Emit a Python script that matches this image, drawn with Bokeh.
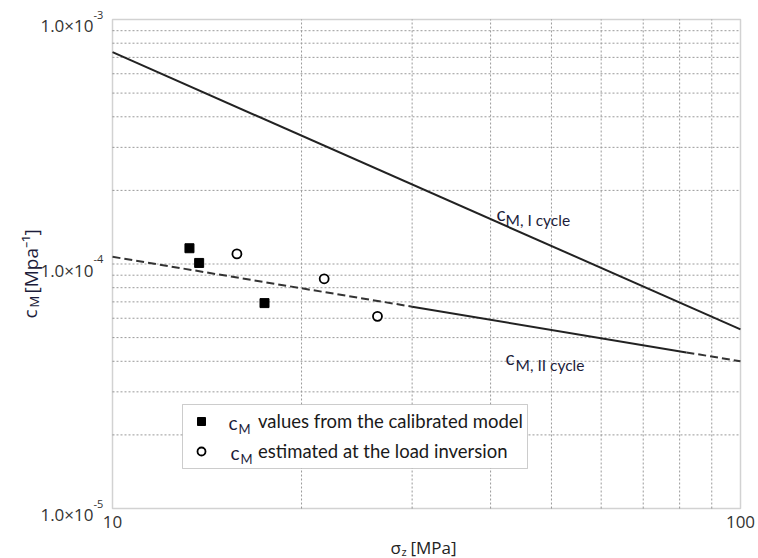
import math
from bokeh.plotting import figure
from bokeh.models import Range1d, Label, Legend, LegendItem, BoxAnnotation
from bokeh.embed import file_html
from bokeh.resources import INLINE

# ---------------- data ----------------
sigma_ends = [10, 100]
cM_cycle1 = [7.35e-4, 5.4e-5]

sigma_cycle2 = [10, 30, 82, 100]
cM_cycle2 = [1.07e-4, 6.69e-5, 4.35e-5, 4.0e-5]

sigma_calibrated = [13.26, 13.74, 17.46]
cM_calibrated = [1.16e-4, 1.01e-4, 6.92e-5]

sigma_inversion = [15.78, 21.73, 26.42]
cM_inversion = [1.10e-4, 8.70e-5, 6.11e-5]

x_major = [10, 100]
x_major_labels = ["10", "100"]
x_minor = [20, 30, 40, 50, 60, 70, 80, 90]
y_major = [1e-5, 1e-4, 1e-3]
y_major_mant = ["1.0\u00d710", "1.0\u00d710", "1.0\u00d710"]
y_major_exp = ["-5", "-4", "-3"]
y_minor = [2e-5, 3e-5, 4e-5, 5e-5, 6e-5, 7e-5, 8e-5, 9e-5,
           2e-4, 3e-4, 4e-4, 5e-4, 6e-4, 7e-4, 8e-4, 9e-4]

legend_labels = ["values from the calibrated model", "estimated at the load inversion"]

# ---------------- geometry (pixels) ----------------
W, H = 758, 558
BOX_L, BOX_R, BOX_T, BOX_B = 112, 740, 19, 508
lx0, lx1 = math.log10(x_major[0]), math.log10(x_major[-1])
ly0, ly1 = math.log10(y_major[0]), math.log10(y_major[-1])
sx = (BOX_R - BOX_L) / (lx1 - lx0)
sy = (BOX_B - BOX_T) / (ly1 - ly0)

p = figure(width=W, height=H, x_axis_type="log", y_axis_type="log",
           x_range=Range1d(10 ** (lx0 - BOX_L / sx), 10 ** (lx1 + (W - BOX_R) / sx)),
           y_range=Range1d(10 ** (ly0 - (H - BOX_B) / sy), 10 ** (ly1 + BOX_T / sy)),
           x_axis_location=None, y_axis_location=None, min_border=0,
           output_backend="svg", toolbar_location=None)
p.grid.visible = False
p.outline_line_color = None
p.background_fill_color = "white"
p.border_fill_color = "white"

# ---------------- grid (dotted) ----------------
grid_style = dict(line_color="#9a9a9a", line_width=1, line_dash="2 2")
p.segment(x0=x_minor, y0=[y_major[0]] * len(x_minor),
          x1=x_minor, y1=[y_major[-1]] * len(x_minor), **grid_style)
y_grid = y_minor + y_major[1:-1]
p.segment(x0=[x_major[0]] * len(y_grid), y0=y_grid,
          x1=[x_major[-1]] * len(y_grid), y1=y_grid, **grid_style)

# ---------------- curves ----------------
p.line(sigma_ends, cM_cycle1, line_color="#222222", line_width=2)
p.line(sigma_cycle2[0:2], cM_cycle2[0:2], line_color="#333333", line_width=2, line_dash="8 4")
p.line(sigma_cycle2[1:3], cM_cycle2[1:3], line_color="#222222", line_width=2)
p.line(sigma_cycle2[2:4], cM_cycle2[2:4], line_color="#333333", line_width=2, line_dash="8 4")

sq = p.scatter(sigma_calibrated, cM_calibrated, marker="square", size=9,
               fill_color="black", line_color="black")
ci = p.scatter(sigma_inversion, cM_inversion, marker="circle", size=9,
               fill_color="white", line_color="black", line_width=1.8)

# plot box
p.add_layout(BoxAnnotation(left=x_major[0], right=x_major[-1],
                           bottom=y_major[0], top=y_major[-1],
                           fill_alpha=0, line_color="#6a6a6a", line_width=1.5))

# ---------------- tick labels ----------------
for xv, txt in zip(x_major, x_major_labels):
    p.add_layout(Label(x=xv, y=y_major[0], text=txt, x_offset=0, y_offset=-13,
                       text_align="center", text_baseline="middle",
                       text_font="Open Sans", text_font_size="17px", text_color="#333333"))
for yv, mant, ex in zip(y_major, y_major_mant, y_major_exp):
    p.add_layout(Label(x=x_major[0], y=yv, text=mant, x_offset=-19, y_offset=-6,
                       text_align="right", text_baseline="middle",
                       text_font="Open Sans", text_font_size="17px", text_color="#333333"))
    p.add_layout(Label(x=x_major[0], y=yv, text=ex, x_offset=-19, y_offset=5,
                       text_align="left", text_baseline="middle",
                       text_font="Open Sans", text_font_size="11px", text_color="#333333"))

# ---------------- legend ----------------
LEG_L, LEG_R, LEG_T, LEG_B = 182, 527, 404, 468
p.add_layout(BoxAnnotation(left=LEG_L, right=LEG_R, bottom=H - LEG_B, top=H - LEG_T,
                           left_units="screen", right_units="screen",
                           bottom_units="screen", top_units="screen",
                           fill_color="white", fill_alpha=1,
                           line_color="#555555", line_width=1))
legend = Legend(items=[LegendItem(label=legend_labels[0], renderers=[sq]),
                       LegendItem(label=legend_labels[1], renderers=[ci])],
                location=(LEG_L + 7, H - LEG_B + 6), orientation="vertical",
                padding=7, spacing=8, glyph_width=24, glyph_height=20,
                label_standoff=45, label_height=20, margin=0,
                label_text_font="Lato", label_text_font_size="18.5px",
                label_text_color="#1a1a1a",
                border_line_color=None, background_fill_alpha=0, level="overlay")
p.add_layout(legend)

def alabel(text, px, py, size, font="Lato", angle=0, color="#1c1c3a"):
    # anchored at the lower-left corner of the plot box, offset in pixels
    return Label(x=x_major[0], y=y_major[0], x_offset=px - BOX_L, y_offset=BOX_B - py,
                 text=text, text_font=font, text_font_size=f"{size}px", text_color=color,
                 angle=angle, text_align="left", text_baseline="alphabetic",
                 level="overlay")

anns = [
    # in-plot curve labels
    alabel("c", 496, 213, 19),
    alabel("M, I cycle", 505, 219, 15.5),
    alabel("c", 505, 357, 19),
    alabel("M, II cycle", 515, 364, 15.5),
    # legend c_M symbols
    alabel("c", 228, 422, 19),
    alabel("M", 238, 428, 13),
    alabel("c", 230, 452, 19),
    alabel("M", 240, 458, 13),
    # x axis label
    alabel("\u03c3", 390, 547, 17, font="Open Sans", color="#222222"),
    alabel("z", 401, 551, 11, font="Open Sans", color="#222222"),
    alabel("[MPa]", 410, 547, 17, font="Open Sans", color="#222222"),
    # y axis label (rotated)
    alabel("c", 29, 318, 19, font="Open Sans", angle=math.pi / 2),
    alabel("M", 33, 307, 13, font="Open Sans", angle=math.pi / 2),
    alabel("[Mpa\u207b\u00b9]", 30, 293, 19, font="Open Sans", angle=math.pi / 2),
]
for a in anns:
    p.add_layout(a)

open("out.html", "w").write(file_html(p, INLINE))
